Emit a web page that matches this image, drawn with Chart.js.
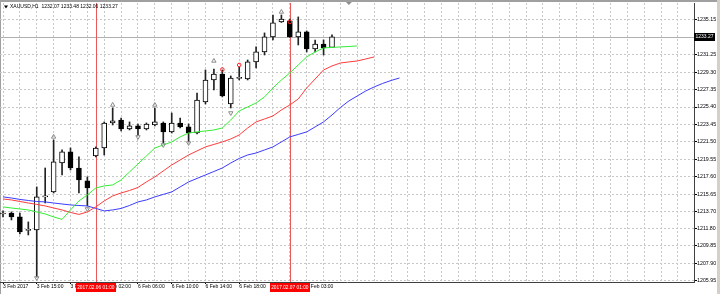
<!DOCTYPE html>
<html>
<head>
<meta charset="utf-8">
<title>XAUUSD,H1</title>
<script src="https://cdn.jsdelivr.net/npm/chart.js@4.4.0/dist/chart.umd.min.js"></script>
<style>
  html, body { margin: 0; padding: 0; background: #fff; }
  #wrap { width: 720px; height: 294px; }
</style>
</head>
<body>
<div id="wrap"><canvas id="chart" width="720" height="294"></canvas></div>
<script>
// XAUUSD H1, bars 3 Feb 2017 11:00 .. 7 Feb 2017 06:00
const opens  = [1213.42, 1213.53, 1213.09, 1211.57, 1211.63, 1215.33, 1215.89, 1219.13, 1220.37, 1218.57,
                1217.12, 1219.92, 1220.81, 1223.61, 1223.95, 1222.94, 1223.28, 1222.94, 1223.39, 1223.61,
                1222.61, 1223.61, 1223.17, 1222.49, 1225.97, 1228.43, 1229.10, 1225.74, 1228.60, 1228.54,
                1230.45, 1231.57, 1233.25, 1234.93, 1235.04, 1233.25, 1233.81, 1231.90, 1232.46, 1232.07];
const highs  = [1213.76, 1213.65, 1213.53, 1212.53, 1216.45, 1218.57, 1221.71, 1220.59, 1220.81, 1219.81,
                1217.57, 1220.93, 1223.73, 1225.29, 1224.17, 1223.73, 1223.50, 1223.61, 1225.29, 1223.73,
                1224.73, 1224.17, 1223.50, 1226.97, 1229.55, 1229.66, 1229.55, 1228.88, 1229.89, 1230.67,
                1232.13, 1233.70, 1235.71, 1235.71, 1235.26, 1235.49, 1233.92, 1232.91, 1232.91, 1233.48];
const lows   = [1213.09, 1212.75, 1211.18, 1211.07, 1206.36, 1214.65, 1215.77, 1217.79, 1218.35, 1215.77,
                1214.32, 1219.81, 1220.03, 1223.39, 1222.72, 1222.83, 1222.27, 1222.83, 1223.28, 1221.37,
                1222.49, 1223.05, 1221.49, 1222.38, 1225.74, 1227.31, 1226.53, 1225.29, 1228.43, 1228.43,
                1229.77, 1231.23, 1232.91, 1234.87, 1233.20, 1232.35, 1231.57, 1231.57, 1231.23, 1232.06];
const closes = [1213.53, 1213.09, 1211.41, 1211.69, 1215.33, 1215.44, 1219.25, 1220.37, 1218.57, 1217.23,
                1216.33, 1220.81, 1223.61, 1223.84, 1222.94, 1223.28, 1222.94, 1223.50, 1223.73, 1222.61,
                1223.61, 1223.17, 1222.49, 1226.19, 1228.43, 1229.10, 1226.64, 1228.65, 1228.65, 1230.45,
                1231.57, 1233.25, 1234.82, 1235.26, 1233.25, 1233.81, 1231.90, 1232.46, 1232.02, 1233.27];

// alligator lines, already shifted forward (lips 3, teeth 5, jaw 8 bars)
const lips  = [1214.21, 1214.09, 1213.98, 1213.87, 1213.65, 1213.42, 1213.09, 1212.81, 1213.87, 1214.88,
               1215.55, 1216.33, 1216.56, 1216.67, 1217.23, 1218.13, 1219.02, 1219.92, 1220.81, 1221.15,
               1221.49, 1222.05, 1222.49, 1222.61, 1222.72, 1222.83, 1223.05, 1223.95, 1224.96, 1225.41,
               1225.85, 1226.53, 1227.53, 1228.43, 1229.21, 1230.11, 1231.01, 1231.57, 1232.02, 1232.07,
               1232.13, 1232.18, 1232.24];
const teeth = [1215.10, 1214.99, 1214.82, 1214.65, 1214.49, 1214.32, 1214.09, 1213.87, 1213.59, 1213.37,
               1213.65, 1214.21, 1214.88, 1215.44, 1215.77, 1216.05, 1216.39, 1217.01, 1217.57, 1218.24,
               1218.91, 1219.47, 1220.03, 1220.48, 1220.93, 1221.21, 1221.49, 1221.82, 1222.27, 1223.05,
               1223.73, 1224.06, 1224.40, 1225.07, 1225.63, 1226.30, 1227.53, 1228.54, 1229.55, 1230.00,
               1230.33, 1230.45, 1230.56, 1230.78, 1231.01];
const jaw   = [1215.33, 1215.21, 1215.05, 1214.93, 1214.82, 1214.77, 1214.65, 1214.54, 1214.43, 1214.37,
               1214.32, 1214.04, 1213.76, 1213.87, 1214.04, 1214.37, 1214.77, 1214.99, 1215.33, 1215.61,
               1215.89, 1216.45, 1217.01, 1217.40, 1217.79, 1218.18, 1218.57, 1219.13, 1219.64, 1220.03,
               1220.25, 1220.59, 1220.93, 1221.49, 1222.05, 1222.33, 1222.61, 1223.17, 1223.73, 1224.51,
               1225.35, 1226.08, 1226.64, 1227.20, 1227.65, 1228.04, 1228.37, 1228.65];

const fractalUpBars = [6, 13, 18, 25, 33];
const fractalUpVals = [1222.05, 1225.63, 1225.63, 1230.56, 1236.05];
const fractalDownBars = [4, 10, 16, 19, 22, 27];
const fractalDownVals = [1206.25, 1213.98, 1222.05, 1221.15, 1221.37, 1224.73];
const signalBars = [26, 28, 34];
const signalVals = [1229.60, 1230.11, 1234.93];

const tickBars = [0, 4, 8, 12, 16, 20, 24, 28, 32, 36];
const tickLabels = ['3 Feb 2017', '3 Feb 15:00', '3 Feb 19:00', '6 Feb 02:00', '6 Feb 06:00',
                    '6 Feb 10:00', '6 Feb 14:00', '6 Feb 18:00', '6 Feb 22:00', '7 Feb 03:00'];
const priceTicks = [1235.15, 1233.20, 1231.25, 1229.30, 1227.35, 1225.40, 1223.45, 1221.50,
                    1219.55, 1217.60, 1215.65, 1213.70, 1211.80, 1209.85, 1207.90, 1205.95];
const separatorBars = [11, 34];
const separatorLabels = ['2017.02.06 01:00', '2017.02.07 01:00'];
const shiftBar = 41;
const title = 'XAUUSD,H1  1232.07 1233.48 1232.06 1233.27';

const FONT = "'Liberation Sans', Arial, sans-serif";
const lastClose = closes[closes.length - 1];
const gridBars = Array.from({ length: 41 }, (_, i) => i * 2);

const pts = (arr) => arr.map((v, i) => ({ x: i, y: v }));

const mt4Frame = {
  id: "mt4Frame",
  beforeDraw(chart) {
    const { ctx, width, height } = chart;
    ctx.save();
    ctx.fillStyle = "#fff";
    ctx.fillRect(0, 0, width, height);
    ctx.fillStyle = "#a0a0a0";
    ctx.fillRect(0, 0, width, 2);
    ctx.fillRect(0, 0, 1, height);
    ctx.fillStyle = "#d4d0c8";
    ctx.fillRect(width - 3, 0, 3, height);
    ctx.restore();
  },
  beforeDatasetsDraw(chart) {
    const { ctx, chartArea: a, scales: { x, y } } = chart;
    ctx.save();
    ctx.lineWidth = 1;
    // bid line
    const py = Math.round(y.getPixelForValue(lastClose)) + 0.5;
    ctx.strokeStyle = "#b0b0b0";
    ctx.beginPath();
    ctx.moveTo(a.left, py);
    ctx.lineTo(a.right, py);
    ctx.stroke();
    // vertical line objects
    ctx.strokeStyle = "#e85a5a";
    separatorBars.forEach((b) => {
      const px = Math.round(x.getPixelForValue(b)) + 0.5;
      ctx.beginPath();
      ctx.moveTo(px, a.top);
      ctx.lineTo(px, a.bottom);
      ctx.stroke();
    });
    ctx.restore();
  },
  afterDraw(chart) {
    const { ctx, chartArea: a, scales: { x, y } } = chart;
    ctx.save();
    ctx.textBaseline = "middle";
    ctx.textAlign = "center";
    // red time labels of the vertical lines
    ctx.font = "4.8px " + FONT;
    separatorBars.forEach((b, i) => {
      const px = x.getPixelForValue(b);
      const w = ctx.measureText(separatorLabels[i]).width + 3;
      ctx.fillStyle = "#ff0000";
      ctx.fillRect(Math.round(px - w / 2), a.bottom + 1, Math.round(w), 9);
      ctx.fillStyle = "#fff";
      ctx.fillText(separatorLabels[i], px, a.bottom + 5.5);
    });
    // current price box
    const py = y.getPixelForValue(lastClose);
    ctx.font = "5px " + FONT;
    ctx.fillStyle = "#000";
    ctx.fillRect(a.right, Math.round(py) - 4, 21, 8);
    ctx.fillStyle = "#fff";
    ctx.fillText(lastClose.toFixed(2), a.right + 10.5, py);
    // title
    ctx.textAlign = "left";
    ctx.fillStyle = "#000";
    ctx.fillText(title, 10, 7);
    ctx.beginPath();
    ctx.moveTo(4, 5.5);
    ctx.lineTo(8, 5.5);
    ctx.lineTo(6, 8.5);
    ctx.closePath();
    ctx.fill();
    // chart shift marker
    const sx = x.getPixelForValue(shiftBar);
    ctx.fillStyle = "#909090";
    ctx.beginPath();
    ctx.moveTo(sx - 3, 2);
    ctx.lineTo(sx + 3, 2);
    ctx.lineTo(sx, 5);
    ctx.closePath();
    ctx.fill();
    ctx.restore();
  },
};

new Chart(document.getElementById("chart"), {
  type: "line",
  data: {
    datasets: [
      {
        type: "line",
        label: "Fractal up",
        data: fractalUpBars.map((b, i) => ({ x: b, y: fractalUpVals[i] })),
        showLine: false,
        pointStyle: "triangle",
        pointRadius: 2.5,
        pointBorderColor: "#8c8c8c",
        pointBackgroundColor: "rgba(0,0,0,0)",
        pointBorderWidth: 1,
        order: 0,
      },
      {
        type: "line",
        label: "Fractal down",
        data: fractalDownBars.map((b, i) => ({ x: b, y: fractalDownVals[i] })),
        showLine: false,
        pointStyle: "triangle",
        rotation: 180,
        pointRadius: 2.5,
        pointBorderColor: "#8c8c8c",
        pointBackgroundColor: "rgba(0,0,0,0)",
        pointBorderWidth: 1,
        order: 0,
      },
      {
        type: "line",
        label: "Signal",
        data: signalBars.map((b, i) => ({ x: b, y: signalVals[i] })),
        showLine: false,
        pointStyle: "circle",
        pointRadius: 1.8,
        pointBorderColor: "#ff2020",
        pointBackgroundColor: "rgba(0,0,0,0)",
        pointBorderWidth: 1,
        order: 0,
      },
      {
        type: "line",
        label: "Lips",
        data: pts(lips),
        borderColor: "#33ee33",
        borderWidth: 1,
        pointRadius: 0,
        tension: 0,
        order: 1,
      },
      {
        type: "line",
        label: "Teeth",
        data: pts(teeth),
        borderColor: "#ff3c3c",
        borderWidth: 1,
        pointRadius: 0,
        tension: 0,
        order: 1,
      },
      {
        type: "line",
        label: "Jaw",
        data: pts(jaw),
        borderColor: "#3c3cff",
        borderWidth: 1,
        pointRadius: 0,
        tension: 0,
        order: 1,
      },
      {
        type: "bar",
        label: "Body",
        data: opens.map((o, i) => ({ x: i, y: [o, closes[i]] })),
        backgroundColor: opens.map((o, i) => (closes[i] >= o ? "#ffffff" : "#000000")),
        borderColor: "#000",
        borderWidth: 1,
        borderSkipped: false,
        barThickness: 5,
        minBarLength: 1,
        grouped: false,
        order: 2,
      },
      {
        type: "bar",
        label: "Wick",
        data: lows.map((l, i) => ({ x: i, y: [l, highs[i]] })),
        backgroundColor: "#222",
        borderWidth: 0,
        barThickness: 1,
        grouped: false,
        order: 3,
      },
    ],
  },
  options: {
    responsive: false,
    animation: false,
    devicePixelRatio: 1,
    layout: { autoPadding: false, padding: { top: 3, left: 0, right: 0, bottom: 0 } },
    plugins: { legend: { display: false }, tooltip: { enabled: false } },
    scales: {
      x: {
        type: "linear",
        min: -0.356,
        max: 81.91,
        offset: false,
        afterBuildTicks: (s) => {
          s.ticks = gridBars.map((v) => ({ value: v }));
        },
        afterFit: (s) => {
          s.height = 12;
          s.paddingLeft = 0;
          s.paddingRight = 0;
        },
        grid: {
          offset: false,
          color: "#c8c8c8",
          lineWidth: 1,
          tickLength: 2,
          tickColor: (c) => (c.tick && tickBars.includes(c.tick.value) ? "#000" : "rgba(0,0,0,0)"),
        },
        border: { display: true, color: "#404040", width: 1, dash: [2, 2] },
        ticks: {
          autoSkip: false,
          maxRotation: 0,
          minRotation: 0,
          align: "start",
          padding: 0,
          color: "#000",
          font: { family: FONT, size: 5 },
          callback: (v) => {
            const k = tickBars.indexOf(v);
            return k >= 0 ? tickLabels[k] : "";
          },
        },
      },
      y: {
        position: "right",
        min: 1205.8,
        max: 1237.05,
        afterBuildTicks: (s) => {
          s.ticks = priceTicks.map((v) => ({ value: v }));
        },
        afterFit: (s) => {
          s.width = 26;
          s.paddingTop = 0;
          s.paddingBottom = 0;
        },
        grid: { color: "#c8c8c8", lineWidth: 1, tickLength: 3, tickColor: "#000" },
        border: { display: true, color: "#404040", width: 1, dash: [2, 2] },
        ticks: {
          autoSkip: false,
          padding: 0,
          color: "#000",
          font: { family: FONT, size: 5.3 },
          callback: (v) => (Math.abs(v - 1233.2) < 0.001 ? "" : v.toFixed(2)),
        },
      },
    },
  },
  plugins: [mt4Frame],
});
</script>
</body>
</html>
